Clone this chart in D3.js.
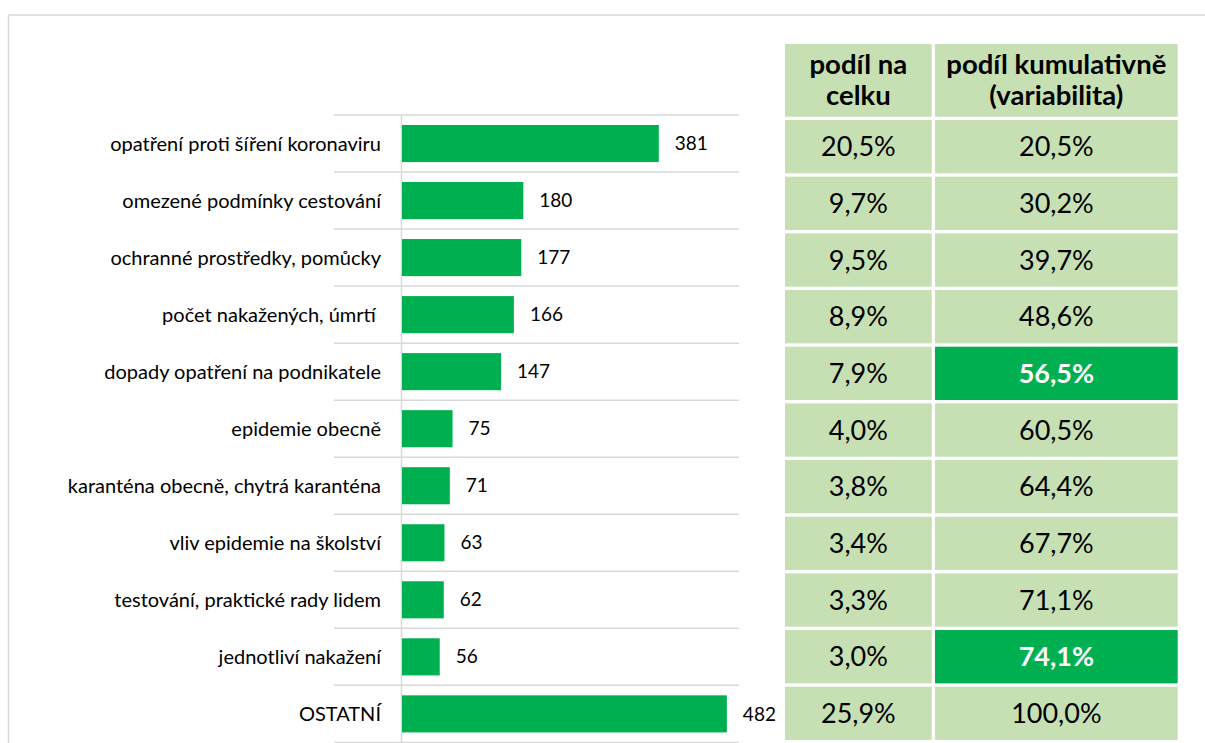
<!DOCTYPE html>
<html>
<head>
<meta charset="utf-8">
<script src="https://cdn.jsdelivr.net/npm/d3@7"></script>
<style>
  html, body { margin: 0; padding: 0; background: #fff; }
  svg { display: block; }
  text { font-family: Lato, "Open Sans", sans-serif; white-space: pre; }
</style>
</head>
<body>
<svg id="chart" width="1205" height="743"></svg>
<script>
const categories = [
  "opatření proti šíření koronaviru",
  "omezené podmínky cestování",
  "ochranné prostředky, pomůcky",
  "počet nakažených, úmrtí ",
  "dopady opatření na podnikatele",
  "epidemie obecně",
  "karanténa obecně, chytrá karanténa",
  "vliv epidemie na školství",
  "testování, praktické rady lidem",
  "jednotliví nakažení",
  "OSTATNÍ"
];
const counts = [381, 180, 177, 166, 147, 75, 71, 63, 62, 56, 482];
const shareOfTotal = ["20,5%", "9,7%", "9,5%", "8,9%", "7,9%", "4,0%", "3,8%", "3,4%", "3,3%", "3,0%", "25,9%"];
const shareCumulative = ["20,5%", "30,2%", "39,7%", "48,6%", "56,5%", "60,5%", "64,4%", "67,7%", "71,1%", "74,1%", "100,0%"];
const highlighted = [false, false, false, false, true, false, false, false, false, true, false];
const headers = [["podíl na", "celku"], ["podíl kumulativně", "(variabilita)"]];
const valueMax = 500;

const svg = d3.select("#chart");
const GREEN = "#00b050", LIGHT = "#c6e0b4", GRID = "#d9d9d9";

// outer border
svg.append("rect").attr("x", 8.5).attr("y", 15).attr("width", 1300).attr("height", 800)
  .attr("fill", "none").attr("stroke", GRID).attr("stroke-width", 1.5);

// bar chart
const plotL = 402, plotR = 739;
const x = d3.scaleLinear().domain([0, valueMax]).range([plotL, plotR]);
const y = d3.scaleBand().domain(categories).range([115, 742.4]).paddingInner(0.35).paddingOuter(0.175);
const step = y.step();

// horizontal separators
const gl = d3.range(categories.length + 1).map(i => 115 + i * step);
svg.append("g").selectAll("line").data(gl).join("line")
  .attr("x1", 334).attr("x2", plotR).attr("y1", d => d).attr("y2", d => d)
  .attr("stroke", GRID).attr("stroke-width", 1.5);

// vertical axis line
svg.append("line").attr("x1", plotL - 0.5).attr("x2", plotL - 0.5).attr("y1", 115).attr("y2", 743)
  .attr("stroke", GRID).attr("stroke-width", 1.5);

svg.append("g").selectAll("rect").data(categories).join("rect")
  .attr("x", x(0)).attr("y", d => y(d)).attr("width", (d, i) => x(counts[i]) - x(0))
  .attr("height", y.bandwidth()).attr("fill", GREEN);

svg.append("g").selectAll("text").data(categories).join("text")
  .attr("x", (d, i) => x(counts[i]) + 16).attr("y", d => y(d) + y.bandwidth() / 2)
  .attr("dy", "0.35em").attr("font-size", 19).attr("fill", "#000")
  .text((d, i) => counts[i]);

svg.append("g").selectAll("text").data(categories).join("text")
  .attr("x", 381).attr("y", d => y(d) + y.bandwidth() / 2)
  .attr("dy", "0.35em").attr("font-size", 20).attr("text-anchor", "end").attr("fill", "#000")
  .text(d => d);

// table
const cols = [{x0: 785, x1: 931.7}, {x0: 935, x1: 1177.7}];
const ty = d3.scaleBand().domain(categories).range([118.35, 741.7]).paddingInner(0.0588).paddingOuter(0.0294);

// header
cols.forEach((c, ci) => {
  svg.append("rect").attr("x", c.x0).attr("y", 44).attr("width", c.x1 - c.x0).attr("height", 72.7).attr("fill", LIGHT);
  headers[ci].forEach((line, li) => {
    svg.append("text").attr("x", (c.x0 + c.x1) / 2).attr("y", 74 + li * 31)
      .attr("text-anchor", "middle").attr("font-size", 27.5).attr("font-weight", "bold").attr("fill", "#000")
      .text(line);
  });
});

const tableCols = [shareOfTotal, shareCumulative];
tableCols.forEach((vals, ci) => {
  const c = cols[ci];
  const g = svg.append("g");
  g.selectAll("rect").data(categories).join("rect")
    .attr("x", c.x0).attr("y", d => ty(d)).attr("width", c.x1 - c.x0).attr("height", ty.bandwidth())
    .attr("fill", (d, i) => ci === 1 && highlighted[i] ? GREEN : LIGHT);
  g.selectAll("text").data(categories).join("text")
    .attr("x", (c.x0 + c.x1) / 2).attr("y", d => ty(d) + ty.bandwidth() / 2)
    .attr("dy", "0.36em").attr("text-anchor", "middle").attr("font-size", 27)
    .attr("font-weight", (d, i) => ci === 1 && highlighted[i] ? "bold" : "normal")
    .attr("fill", (d, i) => ci === 1 && highlighted[i] ? "#fff" : "#000")
    .text((d, i) => vals[i]);
});
</script>
</body>
</html>
